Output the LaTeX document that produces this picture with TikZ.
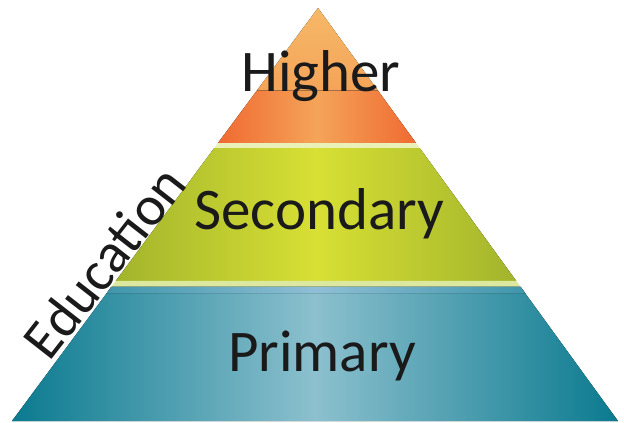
\documentclass[tikz,border=0pt]{standalone}
\usepackage{fontspec}
\setmainfont{Carlito}
\usetikzlibrary{calc}
\definecolor{orEdge}{HTML}{F06A32}
\definecolor{orMid}{HTML}{F4A458}
\definecolor{orTop}{HTML}{F6B868}
\definecolor{orBot}{HTML}{F07A3A}
\definecolor{grEdge}{HTML}{A2B42C}
\definecolor{grMid}{HTML}{D8E034}
\definecolor{tlEdge}{HTML}{0B7A8F}
\definecolor{tlMid}{HTML}{8CC0CE}
\definecolor{stripA}{HTML}{E9F1B8}
\definecolor{stripB}{HTML}{DCE8A0}
\definecolor{stripC}{HTML}{8FBFD6}
\definecolor{ink}{HTML}{1A1A1A}
\tikzset{
  tierlabel/.style={text=ink, font=\fontsize{59}{59}\selectfont, inner sep=0pt},
  sidelabel/.style={text=ink, font=\fontsize{56}{56}\selectfont, inner sep=0pt, rotate=52}
}
\begin{document}
\begin{tikzpicture}[x=1pt,y=-1pt]
\useasboundingbox (0,0) rectangle (624,423);
\fill[white] (0,0) rectangle (624,423);
\coordinate (apex) at (318,8);
\coordinate (BL) at (12,421);
\coordinate (BR) at (618,421);
\foreach \n/\t in {a/0.3269,b/0.339,c/0.661,d/0.6755,e/0.6905,f/0.2} {
  \coordinate (L\n) at ($(apex)!\t!(BL)$);
  \coordinate (R\n) at ($(apex)!\t!(BR)$);
}
% orange tier: light top part, then horizontally shaded lower part
\fill[top color=orTop, bottom color=orMid] (apex) -- (Rf) -- (Lf) -- cycle;
\fill[left color=orEdge, right color=orEdge, middle color=orMid] (Lf) -- (Rf) -- (Ra) -- (La) -- cycle;
% strip
\fill[stripA] (La) -- (Ra) -- (Rb) -- (Lb) -- cycle;
% green tier
\fill[left color=grEdge, right color=grEdge, middle color=grMid] (Lb) -- (Rb) -- (Rc) -- (Lc) -- cycle;
% strip
\fill[stripB] (Lc) -- (Rc) -- (Rd) -- (Ld) -- cycle;
% teal tier
\fill[left color=tlEdge, right color=tlEdge, middle color=tlMid] (Ld) -- (Rd) -- (BR) -- (BL) -- cycle;
\fill[left color=tlEdge!60!stripC, right color=tlEdge!60!stripC, middle color=stripC] (Ld) -- (Rd) -- (Re) -- (Le) -- cycle;
% labels
\node[tierlabel] (higher) at (321,76) {Higher};
\node[tierlabel] (secondary) at (319,214) {Secondary};
\node[tierlabel] (primary) at (322,356) {Primary};
\node[sidelabel] (education) at (104,262) {Education};
\end{tikzpicture}
\end{document}
